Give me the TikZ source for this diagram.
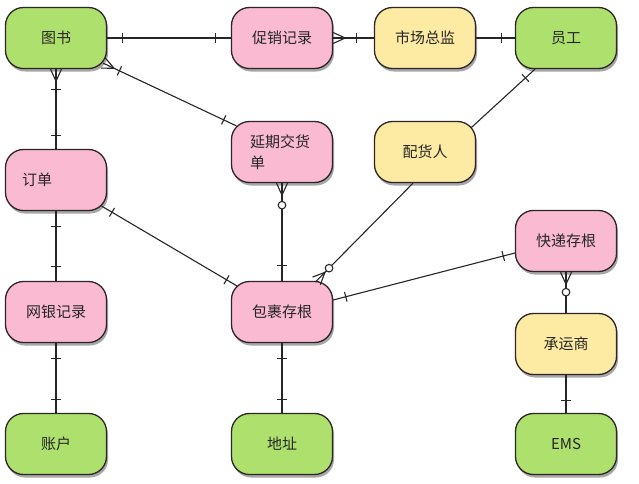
\documentclass[tikz,border=0pt]{standalone}
\usepackage{fontspec}
\setmainfont{Noto Sans CJK SC}
\usetikzlibrary{shadows,decorations.markings}
\definecolor{gfill}{HTML}{AEE06E}
\definecolor{pfill}{HTML}{F9BAD2}
\definecolor{yfill}{HTML}{FDEBA4}
\definecolor{edgec}{HTML}{2E2626}
\definecolor{linec}{HTML}{262626}
\definecolor{txtc}{HTML}{262626}
\begin{document}
\begin{tikzpicture}[x=1pt,y=-1pt,
  ent/.style={draw=edgec, line width=1.3pt, rounded corners=18pt,
    minimum width=101pt, minimum height=61pt, inner sep=0pt,
    font=\fontsize{15}{21}\selectfont, text=txtc,
    drop shadow={shadow xshift=1.5pt, shadow yshift=-3pt, opacity=0.35, fill=black}},
  gbox/.style={ent, fill=gfill},
  pbox/.style={ent, fill=pfill},
  ybox/.style={ent, fill=yfill},
  conn/.style={draw=linec, line width=1.1pt},
  tickat/.style={postaction={decorate,decoration={markings,
    mark=at position #1 with {\draw[draw=linec,line width=1.1pt] (0pt,-5pt)--(0pt,5pt);}}}},
  circat/.style={postaction={decorate,decoration={markings,
    mark=at position #1 with {\draw[draw=linec,fill=white,line width=1.1pt] (0pt,0pt) circle (3.8pt);}}}},
  crowS/.style={postaction={decorate,decoration={markings,
    mark=at position 0.01pt with {\draw[draw=linec,line width=1.1pt] (0pt,-5.5pt)--(12pt,0pt)--(0pt,5.5pt);}}}},
  crowE/.style={postaction={decorate,decoration={markings,
    mark=at position -0.01pt with {\draw[draw=linec,line width=1.1pt] (0pt,-5.5pt)--(-12pt,0pt)--(0pt,5.5pt);}}}},
]
\useasboundingbox (0,0) rectangle (639,483);
\fill[white] (0,0) rectangle (639,483);

% nodes
\node[gbox] (tushu) at (56,38) {图书};
\node[pbox] (cuxiao) at (282,38) {促销记录};
\node[ybox] (shichang) at (425,38) {市场总监};
\node[gbox] (yuangong) at (566,38) {员工};

\node[pbox, text width=68pt, align=left] (dingdan) at (56,180) {订单};
\node[pbox, text width=64pt, align=left] (yanqi) at (282,152) {延期交货\\单};
\node[ybox] (peihuo) at (425,152) {配货人};

\node[pbox] (kuaidi) at (566,241) {快递存根};

\node[pbox] (wangyin) at (56,312) {网银记录};
\node[pbox] (baoguo) at (282,312) {包裹存根};
\node[ybox] (chengyun) at (566,344) {承运商};

\node[gbox] (zhanghu) at (56,444) {账户};
\node[gbox] (dizhi) at (282,444) {地址};
\node[gbox] (ems) at (566,444) {EMS};

% connectors
\draw[conn, tickat=15pt, tickat=-15pt] (tushu.east) -- (cuxiao.west);
\draw[conn, crowS, tickat=23pt] (cuxiao.east) -- (shichang.west);
\draw[conn, tickat=-13pt] (shichang.east) -- (yuangong.west);
\draw[conn, tickat=13pt] ([xshift=-31pt]yuangong.south) -- ([xshift=46pt,yshift=-7pt]peihuo.north);

\draw[conn, crowS, tickat=20pt, tickat=-13pt] (tushu.south) -- (dingdan.north);
\draw[conn, crowS, tickat=18pt, tickat=-14pt] ([xshift=-4pt,yshift=6pt]tushu.south east) -- ([xshift=5.5pt,yshift=-5pt]yanqi.north west);
\draw[conn, crowS, circat=22pt, tickat=-15pt] (yanqi.south) -- (baoguo.north);

\draw[conn, tickat=12pt, tickat=-12pt] ([xshift=-5.5pt,yshift=5pt]dingdan.south east) -- ([xshift=6pt,yshift=-5pt]baoguo.north west);
\draw[conn, tickat=15pt, tickat=-14pt] (dingdan.south) -- (wangyin.north);
\draw[conn, circat=-18pt, crowE] ([xshift=-12pt]peihuo.south) -- ([xshift=34pt,yshift=-0.5pt]baoguo.north);

\draw[conn, tickat=12pt, tickat=-13pt] ([yshift=-12pt]kuaidi.west) -- ([yshift=12pt]baoguo.east);
\draw[conn, crowS, circat=20pt] (kuaidi.south) -- (chengyun.north);

\draw[conn, tickat=15pt, tickat=-13pt] (wangyin.south) -- (zhanghu.north);
\draw[conn, tickat=15pt, tickat=-13pt] (baoguo.south) -- (dizhi.north);
\draw[conn, tickat=-12pt] (chengyun.south) -- (ems.north);
\end{tikzpicture}
\end{document}
